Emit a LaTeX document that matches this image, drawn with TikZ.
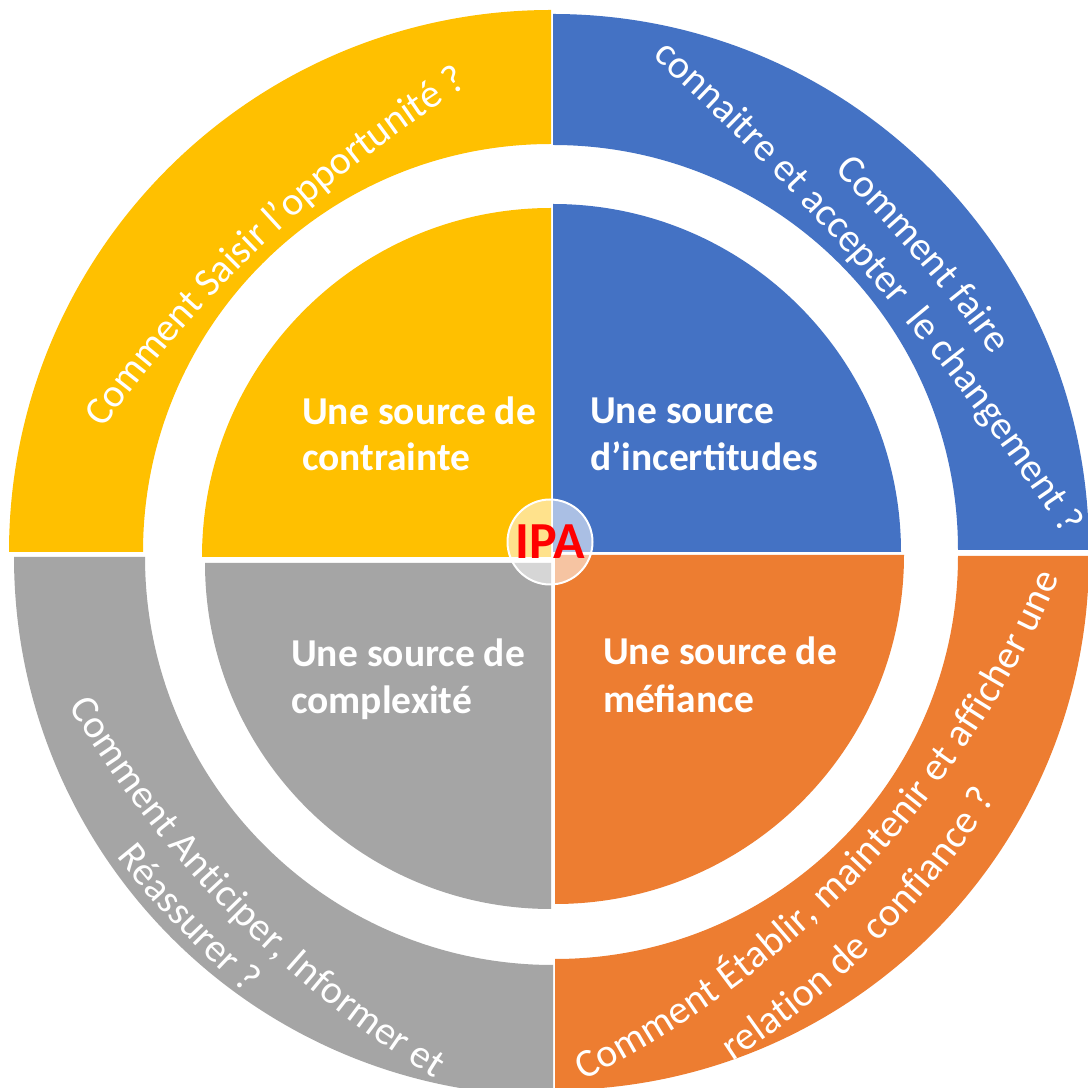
\documentclass[tikz,border=0pt]{standalone}
\usepackage{fontspec}
\setmainfont{Carlito}
\usetikzlibrary{calc,decorations.text}
\definecolor{cyellow}{HTML}{FFC000}
\definecolor{cblue}{HTML}{4472C4}
\definecolor{cgray}{HTML}{A5A5A5}
\definecolor{corange}{HTML}{ED7D31}
\definecolor{cred}{HTML}{FF0000}
\newcommand\ringfont{\fontsize{40}{48}\selectfont}
\newcommand\innerfont{\fontsize{39.5}{46}\selectfont\bfseries}
\newcommand\ringsector[6]{%
  \fill[#1] ($(#2)+(#3:#6)$) arc[start angle=#3,end angle=#4,radius=#6]
    -- ($(#2)+(#4:#5)$) arc[start angle=#4,end angle=#3,radius=#5] -- cycle;}
\newcommand\piesector[5]{%
  \fill[#1] (#2) -- ($(#2)+(#3:#5)$) arc[start angle=#3,end angle=#4,radius=#5] -- cycle;}
\begin{document}
\begin{tikzpicture}[x=1pt,y=1pt,
  inner/.style={text=white,font=\innerfont,inner sep=0pt,anchor=base west},
  ringlabel/.style={decorate,decoration={text along path,text align=center,raise=-9pt,text={#1}}}]
\useasboundingbox (0,0) rectangle (1088,1088);
\clip (0,0) rectangle (1088,1088);
\fill[white] (0,0) rectangle (1088,1088);
% centres
\coordinate (ry) at (551,536);
\coordinate (rb) at (553,538);
\coordinate (rg) at (553,531);
\coordinate (ro) at (555,532);
\coordinate (py) at (551,531);
\coordinate (pb) at (553,536);
\coordinate (pg) at (551,525);
\coordinate (po) at (555,533);
% outer ring
\ringsector{cyellow}{ry}{90}{180}{408pt}{542pt}
\ringsector{cblue}{rb}{0}{90}{405pt}{536pt}
\ringsector{cgray}{rg}{180}{270}{408pt}{539pt}
\ringsector{corange}{ro}{270}{360}{403pt}{534pt}
% inner pie
\piesector{cyellow}{py}{90}{180}{349pt}
\piesector{cblue}{pb}{0}{90}{348pt}
\piesector{cgray}{pg}{180}{270}{346pt}
\piesector{corange}{po}{270}{360}{349pt}
% inner labels
\node[inner] (y1) at (302,663) {Une source de};
\node[inner] (y2) at (302,617) {contrainte};
\node[inner] (b1) at (590,664) {Une source};
\node[inner] (b2) at (590,617) {d’incertitudes};
\node[inner] (g1) at (291,421) {Une source de};
\node[inner] (g2) at (291,374) {complexité};
\node[inner] (o1) at (603,423) {Une source de};
\node[inner] (o2) at (603,375) {méfiance};
% ring labels: text middle points
\coordinate (yT) at (263,855);
\coordinate (bT1) at (924,834);
\coordinate (bT2) at (880,811);
\coordinate (gT1) at (236,180);
\coordinate (gT2) at (185,166);
\coordinate (oT1) at (859,223);
\coordinate (oT2) at (871,151);
\path[ringlabel={|\ringfont\color{white}|Comment Saisir l’opportunité ?}]
  ($(yT)+(151.2:1300pt)-(133.2:1300pt)$) arc[start angle=151.2,end angle=115.2,radius=1300pt];
\path[ringlabel={|\ringfont\color{white}|Comment faire}]
  ($(bT1)+(50.6:1500pt)-(40.6:1500pt)$) arc[start angle=50.6,end angle=30.6,radius=1500pt];
\path[ringlabel={|\ringfont\color{white}|connaitre et accepter{\ \ }le changement ?}]
  ($(bT2)+(51.7:2500pt)-(40.7:2500pt)$) arc[start angle=51.7,end angle=29.7,radius=2500pt];
\path[ringlabel={|\ringfont\color{white}|Comment Anticiper, Informer et}]
  ($(gT1)+(-156.5:1100pt)-(-135.5:1100pt)$) arc[start angle=-156.5,end angle=-114.5,radius=1100pt];
\path[ringlabel={|\ringfont\color{white}|Réassurer ?}]
  ($(gT2)+(-146.5:1150pt)-(-136.5:1150pt)$) arc[start angle=-146.5,end angle=-126.5,radius=1150pt];
\path[ringlabel={|\ringfont\color{white}|Comment Établir, maintenir et afficher une}]
  ($(oT1)+(-69.5:1000pt)-(-43.5:1000pt)$) arc[start angle=-69.5,end angle=-17.5,radius=1000pt];
\path[ringlabel={|\ringfont\color{white}|relation de confiance ?}]
  ($(oT2)+(-60.1:900pt)-(-45.1:900pt)$) arc[start angle=-60.1,end angle=-30.1,radius=900pt];
% centre
\node[circle,minimum size=85pt,inner sep=0pt,fill=white,fill opacity=0.55,text opacity=1,
  draw=white,line width=2pt,text=cred,font=\fontsize{52}{56}\selectfont\bfseries] (ipa) at (550,546) {IPA};
\end{tikzpicture}
\end{document}
